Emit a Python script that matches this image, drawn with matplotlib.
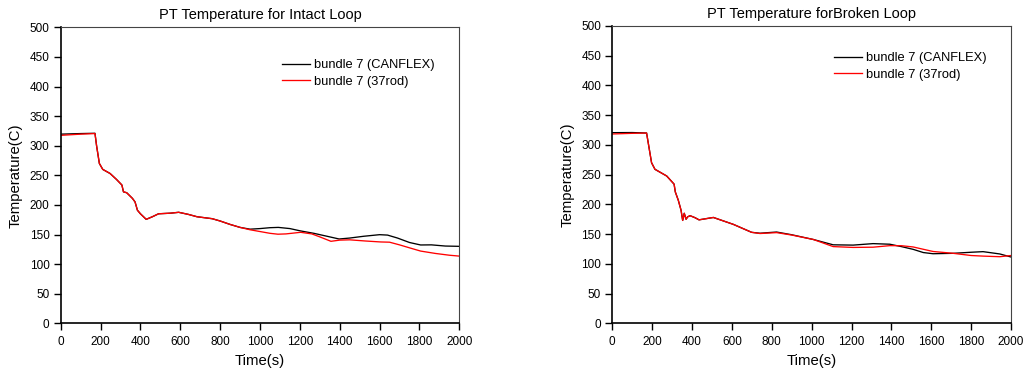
import matplotlib
matplotlib.use("Agg")
import matplotlib.pyplot as plt
import numpy as np

plt.rcParams['font.family'] = ['Liberation Sans', 'DejaVu Sans']

# ---- Intact loop data ----
intact_t_canflex = [0, 100, 172, 180, 194, 211, 248, 280, 307, 315, 331, 360, 373, 385, 400, 429,
                    460, 491, 550, 592, 640, 684, 760, 800, 850, 900, 950, 1000, 1050, 1092,
                    1150, 1204, 1270, 1330, 1397, 1450, 1520, 1600, 1640, 1690, 1750, 1806,
                    1860, 1930, 2000]
intact_v_canflex = [319.5, 320.5, 321, 300, 270, 260, 253, 243, 233.6, 222, 220.6, 211, 205, 191,
                    185, 175.6, 180, 185, 186, 187.5, 184, 180, 176.7, 172.8, 167, 162, 159,
                    160, 161.5, 162, 160, 156, 152, 147.5, 142.4, 144, 147, 149.7, 149, 144,
                    136.5, 132.3, 132.5, 130.5, 130]
intact_t_37rod = [0, 100, 172, 180, 194, 211, 248, 280, 307, 315, 331, 360, 373, 385, 400, 429,
                  460, 491, 550, 592, 640, 684, 760, 800, 850, 900, 950, 1000, 1050, 1090,
                  1130, 1204, 1260, 1300, 1356, 1400, 1450, 1530, 1606, 1650, 1700, 1760,
                  1806, 1880, 1950, 2000]
intact_v_37rod = [317.5, 319.5, 320.5, 300, 270, 260, 253, 243, 233.6, 222, 220.6, 211, 205, 191,
                  185, 175.6, 180, 185, 186, 187.5, 184, 180, 176.7, 172.8, 167, 162, 158,
                  155, 152, 150.5, 151, 153.7, 151, 146, 138.5, 140.5, 141, 139, 137.4, 137,
                  132.5, 126.5, 122, 118, 115, 113.5]

# ---- Broken loop data ----
broken_t_canflex = [0, 100, 172, 189, 197, 214, 273, 310, 316, 331, 345, 353, 361, 370, 378,
                    390, 415, 435, 507, 607, 699, 741, 824, 899, 1008, 1108, 1208, 1308,
                    1392, 1450, 1509, 1560, 1609, 1710, 1800, 1860, 1944, 2000]
broken_v_canflex = [320.6, 320.8, 320, 285.9, 270, 259, 247.7, 234, 221, 207, 190, 173, 185,
                    175, 179, 181, 177.6, 174, 178, 166.4, 153, 151.5, 153.5, 149, 141, 132,
                    131.5, 134, 133, 129, 124.4, 119, 117, 117.7, 119.5, 120.5, 116.6, 111.5]
broken_t_37rod = [0, 100, 172, 189, 197, 214, 273, 310, 316, 331, 345, 353, 361, 370, 378,
                  390, 415, 435, 507, 607, 699, 741, 824, 899, 1008, 1108, 1208, 1308,
                  1392, 1450, 1509, 1560, 1609, 1710, 1800, 1860, 1944, 2000]
broken_v_37rod = [318.4, 319.5, 320, 285.9, 270, 259, 247.7, 234, 221, 207, 190, 173, 185,
                  175, 179, 181, 177.6, 174, 178, 166.4, 153, 151, 152.5, 148.5, 141, 129,
                  127.6, 128, 130.6, 130.5, 128.4, 124.5, 120.8, 117.7, 114, 113, 112, 114]

x_ticks = [0, 200, 400, 600, 800, 1000, 1200, 1400, 1600, 1800, 2000]
y_ticks = [0, 50, 100, 150, 200, 250, 300, 350, 400, 450, 500]
titles = ["PT Temperature for Intact Loop", "PT Temperature forBroken Loop"]
labels = ["bundle 7 (CANFLEX)", "bundle 7 (37rod)"]

W, H = 1029, 372
fig = plt.figure(figsize=(W / 100, H / 100), dpi=100)

def px_axes(l, t, r, b):
    return fig.add_axes([l / W, 1 - b / H, (r - l) / W, (b - t) / H])

ax1 = px_axes(60.7, 27.3, 459.3, 323.3)
ax2 = px_axes(612.3, 26.0, 1011.0, 323.3)

# legend anchors in pixel coordinates (left of line, top of first row)
datasets = [
    (ax1, intact_t_canflex, intact_v_canflex, intact_t_37rod, intact_v_37rod, titles[0],
     (281.5, 59.0), 16.0),
    (ax2, broken_t_canflex, broken_v_canflex, broken_t_37rod, broken_v_37rod, titles[1],
     (834.0, 52.0), 568.0),
]

for ax, tc, vc, tr, vr, title, anchor, ylab_x in datasets:
    ax.plot(tc, vc, color='black', lw=0.95, label=labels[0])
    ax.plot(tr, vr, color='#ff0000', lw=0.95, label=labels[1])
    ax.set_xlim(0, 2000)
    ax.set_ylim(0, 500)
    ax.set_xticks(x_ticks)
    ax.set_yticks(y_ticks)
    ax.tick_params(axis='both', labelsize=8.5, direction='out', length=5, width=1,
                   top=False, right=False)
    ax.tick_params(axis='x', pad=4)
    ax.tick_params(axis='y', pad=3)
    for s in ['left', 'bottom']:
        ax.spines[s].set_linewidth(1.2)
        ax.spines[s].set_color('black')
    for s in ['top', 'right']:
        ax.spines[s].set_linewidth(0.8)
        ax.spines[s].set_color('#444444')
    ax.set_title(title, fontsize=10.5, pad=6)
    ax.set_xlabel("Time(s)", fontsize=10.7)
    ax.xaxis.set_label_coords(0.5, -(361 - 323.3) / (323.3 - 27.3), transform=ax.transAxes)
    ax.set_ylabel("Temperature(C)", fontsize=10.7)
    bb = ax.get_position()
    axl = bb.x0 * W
    axw = bb.width * W
    ax.yaxis.set_label_coords((ylab_x - axl) / axw, 0.5)
    ax.xaxis.label.set_va('center')
    ax.yaxis.label.set_va('center')
    lx, ly = anchor
    ax.legend(loc='upper left',
              bbox_to_anchor=(lx / W, 1 - ly / H), bbox_transform=fig.transFigure,
              frameon=False, fontsize=9.3, handlelength=2.2, handletextpad=0.3,
              labelspacing=0.35, borderaxespad=0, borderpad=0)

fig.savefig("out.png", dpi=100)
